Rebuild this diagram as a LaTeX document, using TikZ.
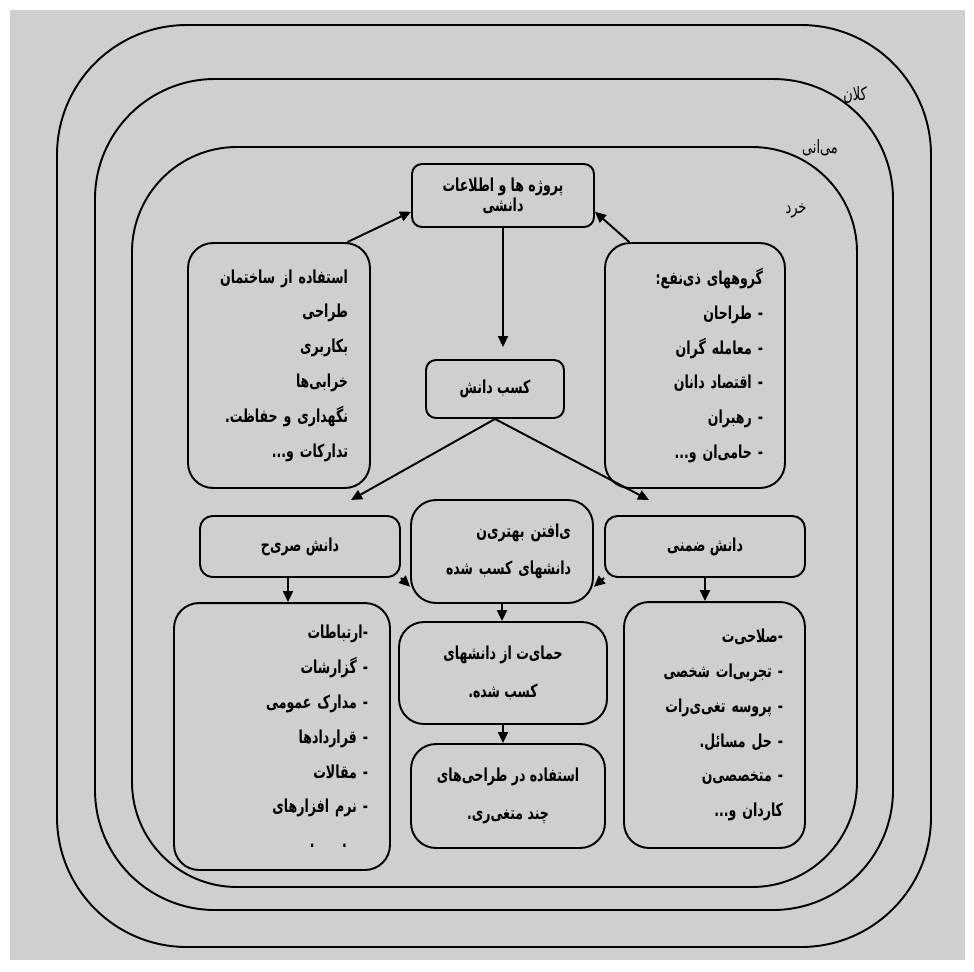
\documentclass[tikz,border=0pt]{standalone}
\usepackage{fontspec}
\newfontfamily\arabicfont[Script=Arabic, FakeStretch=0.7]{DejaVu Sans}
\TeXXeTstate=1
\usetikzlibrary{arrows.meta}
\definecolor{bggray}{RGB}{207,207,207}
\newcommand{\fa}[1]{\beginR #1\endR}

\begin{document}
\begin{tikzpicture}[x=0.02cm, y=-0.02cm,
	frame/.style={draw, line width=1.1pt},
	box/.style={draw, line width=1.1pt, rounded corners=0.5cm, inner xsep=0.44cm, inner ysep=0pt,
		align=right, font=\arabicfont\bfseries\fontsize{10.2}{19.8}\selectfont},
	midbox/.style={box, align=center, font=\arabicfont\bfseries\fontsize{10.2}{21.5}\selectfont},
	ring/.style={font=\arabicfont\fontsize{10.5}{11}\selectfont, inner sep=0pt},
	arr/.style={line width=1.1pt, -{Triangle[length=0.22cm, width=0.2cm]}}
	]
	% Background
	\fill[white] (0,0) rectangle (974,971);
	\fill[bggray] (10,10) rectangle (965,960);
	% Levels
	\foreach \xa/\ya/\xb/\yb/\r in {57/25/931/947/2.6cm, 95/79/893/910/2.4cm, 132/147/857/887/2.1cm} {
		\draw[frame, rounded corners=\r] (\xa,\ya) rectangle (\xb,\yb);
	}
	\node[ring] (macro) at (855,95) {\fa{کلان}};
	\node[ring] (meso) at (820,148) {\fa{می‌انی}};
	\node[ring] (micro) at (796,211) {\fa{خرد}};

	% Boxes
	\node[midbox, minimum width=3.64cm, minimum height=1.26cm, rounded corners=0.2cm,
		font=\arabicfont\bfseries\fontsize{10.2}{9.8}\selectfont] (sources) at (503,195.5)
		{\fa{پروژه ها و اطلاعات}\\\fa{دانشی}};
	\node[box, minimum width=3.64cm, minimum height=4.9cm, text width=2.76cm] (usage) at (279,365.5)
		{\fa{استفاده از ساختمان}\\\fa{طراحی}\\\fa{بکاربری}\\\fa{خرابی‌ها}\\\fa{نگهداری و حفاظت.}\\\fa{تدارکات و...}};
	\node[box, minimum width=3.6cm, minimum height=4.9cm, text width=2.72cm] (stake) at (695,365.5)
		{\fa{گروههای ذی‌نفع:}\\\fa{- طراحان}\\\fa{- معامله گران}\\\fa{- اقتصاد دانان}\\\fa{- رهبران}\\\fa{- حامی‌ان و...}};
	\node[midbox, minimum width=2.76cm, minimum height=1.16cm, rounded corners=0.2cm] (gain) at (495,389)
		{\fa{کسب دانش}};
	\node[midbox, minimum width=4cm, minimum height=1.22cm, rounded corners=0.25cm] (explicit) at (300,546.5)
		{\fa{دانش صری‌ح}};
	\node[box, minimum width=3.64cm, minimum height=2.06cm, text width=2.76cm,
		font=\arabicfont\bfseries\fontsize{10.2}{21}\selectfont] (best) at (502,551.5)
		{\fa{ی‌افتن بهتری‌ن}\\\fa{دانشهای کسب‌ شده}};
	\node[midbox, minimum width=4cm, minimum height=1.22cm, rounded corners=0.25cm] (tacit) at (705,546.5)
		{\fa{دانش ضمنی}};
	\node[box, minimum width=4.32cm, minimum height=5.34cm, text width=3.44cm] (explist) at (282,736.5)
		{\fa{-ارتباطات}\\\fa{- گزارشات}\\\fa{- مدارک عمومی}\\\fa{- قراردادها}\\\fa{- مقالات}\\\fa{- نرم افزارهای}\\\fa{\hspace*{0.42cm}.\hspace{0.55cm}.}};
	\node[midbox, minimum width=4.16cm, minimum height=2.04cm] (protect) at (503,673)
		{\fa{حمای‌ت از دانشهای}\\\fa{کسب شده.}};
	\node[midbox, minimum width=3.88cm, minimum height=2.08cm] (apply) at (508,796)
		{\fa{استفاده در طراحی‌های}\\\fa{چند متغی‌ری.}};
	\node[box, minimum width=3.62cm, minimum height=4.92cm, text width=2.74cm] (taclist) at (714.5,725)
		{\fa{-صلاحی‌ت}\\\fa{- تجربی‌ات شخصی}\\\fa{- پروسه تغی‌ی‌رات}\\\fa{- حل مسائل.}\\\fa{- متخصصی‌ن}\\\fa{کاردان و...}};

	% Arrows
	\coordinate (split left) at (351,500);
	\coordinate (split right) at (649,500);
	\draw[arr] (usage.61) -- (sources.190);
	\draw[arr] (stake.118) -- (sources.350);
	\draw[arr, shorten >=0.24cm] (sources.south) -- (sources.south |- gain.north);
	\draw[arr] (gain.south) -- (split left);
	\draw[arr] (gain.south) -- (split right);
	\draw[arr] (explicit.south east) -- (best.201);
	\draw[arr] (tacit.south west) -- (best.339);
	\draw[arr] ([xshift=-0.24cm]explicit.south) -- ([xshift=-0.24cm]explicit.south |- explist.north);
	\draw[arr] (tacit.south) -- (tacit.south |- taclist.north);
	\draw[arr] (best.south) -- (best.south |- protect.north);
	\draw[arr] (protect.south) -- (protect.south |- apply.north);
\end{tikzpicture}
\end{document}
